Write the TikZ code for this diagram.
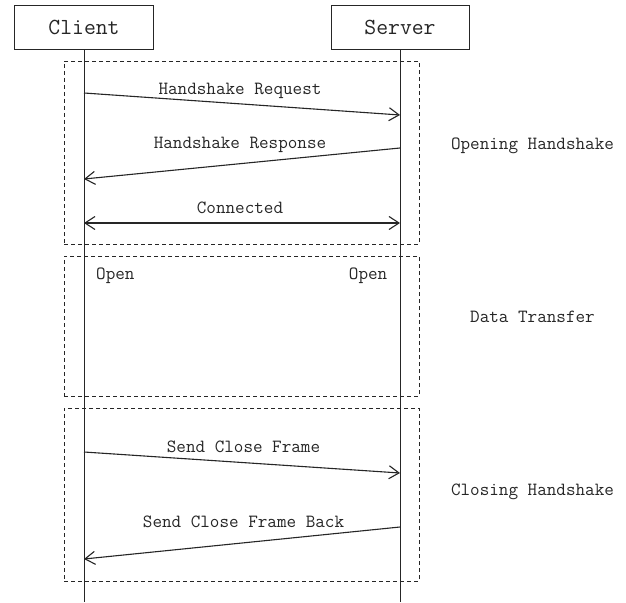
\documentclass[tikz,border=0pt]{standalone}
\usepackage{fontspec}
\usetikzlibrary{arrows.meta}
\begin{document}
\begin{tikzpicture}[x=1pt,y=-1pt,
  actor/.style={draw=black!85, line width=1pt, minimum width=139pt, minimum height=44pt, inner sep=0pt,
    font=\ttfamily\fontsize{23}{26}\selectfont, text height=14pt, text depth=0pt, text=black!85},
  lifeline/.style={draw=black!85, line width=1pt},
  phase/.style={draw=black!85, line width=0.9pt, dash pattern=on 4pt off 3pt, inner sep=0pt},
  barb/.tip={Straight Barb[length=10pt,width=13pt]},
  msg/.style={draw=black!85, line width=1.1pt, -barb},
  lbl/.style={font=\ttfamily\fontsize{18.6}{22}\selectfont, inner sep=0pt, anchor=base, text=black!85},
]
\fill[white] (0,0) rectangle (626,602);
\useasboundingbox (0,0) rectangle (626,602);

% phase frames
\node[phase, minimum width=355pt, minimum height=183pt] (fopen) at (241.5,152.5) {};
\node[phase, minimum width=355pt, minimum height=140pt] (fdata) at (241.5,326) {};
\node[phase, minimum width=355pt, minimum height=173pt] (fclose) at (241.5,494.5) {};

% actors
\node[actor] (client) at (84,28) {Client};
\node[actor, minimum width=138pt] (server) at (400,28) {Server};
\coordinate (cend) at (84,602);
\coordinate (send) at (400,602);
\draw[lifeline] (client) -- (cend);
\draw[lifeline] (server) -- (send);

% message endpoints
\coordinate (reqA) at (84,93);   \coordinate (reqB) at (400,115);
\coordinate (resA) at (400,148); \coordinate (resB) at (84,179);
\coordinate (conA) at (84,223);  \coordinate (conB) at (400,223);
\coordinate (clA) at (84,452);   \coordinate (clB) at (400,473);
\coordinate (bkA) at (400,527);  \coordinate (bkB) at (84,559);

\draw[msg] (reqA) -- (reqB);
\draw[msg] (resA) -- (resB);
\draw[msg, barb-barb] (conA) -- (conB);
\draw[msg] (clA) -- (clB);
\draw[msg] (bkA) -- (bkB);

% labels
\node[lbl] (lreq) at (240,94) {Handshake Request};
\node[lbl] (lres) at (240,148) {Handshake Response};
\node[lbl] (lcon) at (240,213) {Connected};
\node[lbl, anchor=base west] (lopc) at (96,279) {Open};
\node[lbl, anchor=base east] (lops) at (387.5,279) {Open};
\node[lbl] (lcl) at (243.5,452) {Send Close Frame};
\node[lbl] (lbk) at (243.5,527) {Send Close Frame Back};

\node[lbl] (popen) at (532.5,149) {Opening Handshake};
\node[lbl] (pdata) at (532.5,322) {Data Transfer};
\node[lbl] (pclose) at (532.5,495) {Closing Handshake};
\end{tikzpicture}
\end{document}
